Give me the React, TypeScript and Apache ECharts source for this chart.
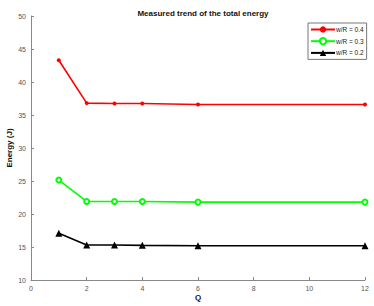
import React, { useEffect, useRef } from "react";
import * as echarts from "echarts";

const qValues = [1, 2, 3, 4, 6, 12];
const energy04 = [43.3, 36.8, 36.75, 36.75, 36.6, 36.6];
const energy03 = [25.15, 21.9, 21.9, 21.9, 21.8, 21.8];
const energy02 = [17.1, 15.3, 15.3, 15.25, 15.2, 15.2];
const seriesNames = ["w/R = 0.4", "w/R = 0.3", "w/R = 0.2"];

export default function App() {
  const ref = useRef<HTMLDivElement>(null);
  useEffect(() => {
    if (!ref.current) return;
    const chart = echarts.init(ref.current, null, { renderer: "svg" });
    const mk = (vals: number[]) => qValues.map((q, i) => [q, vals[i]]);
    const axisCommon = {
      axisLine: { show: true, lineStyle: { color: "#888", width: 1 } },
      axisTick: { show: true, inside: true, length: 3, lineStyle: { color: "#888" } },
      axisLabel: { color: "#555", fontSize: 7, fontFamily: "Liberation Sans", margin: 5 },
      splitLine: { show: false },
      nameMoveOverlap: false,
      nameTextStyle: { color: "#111", fontSize: 8, fontWeight: "bold", fontFamily: "Liberation Sans" },
    };
    chart.setOption({
      animation: false,
      backgroundColor: "#fff",
      title: {
        text: "Measured trend of the total energy",
        left: 198,
        textAlign: "center",
        top: 4,
        textStyle: { fontSize: 8, fontWeight: "bold", color: "#111", fontFamily: "Liberation Sans" },
      },
      grid: { left: 31, right: 9, top: 16, bottom: 26, outerBoundsMode: "none", containLabel: false },
      legend: {
        orient: "vertical",
        left: 308,
        top: 23,
        padding: [3, 3, 3, 2],
        itemGap: 4,
        itemWidth: 24,
        itemHeight: 8,
        borderColor: "#777",
        borderWidth: 1,
        backgroundColor: "#fff",
        textStyle: { fontSize: 6.5, color: "#222", fontFamily: "Liberation Sans", padding: [0, 0, 0, -4] },
        data: seriesNames,
      },
      xAxis: {
        type: "value",
        min: 0,
        max: 12,
        interval: 2,
        name: "Q",
        nameLocation: "middle",
        nameGap: 13,
        ...axisCommon,
      },
      yAxis: {
        type: "value",
        min: 10,
        max: 50,
        interval: 5,
        name: "Energy (J)",
        nameLocation: "middle",
        nameGap: 18,
        ...axisCommon,
      },
      series: [
        {
          name: seriesNames[0],
          type: "line",
          data: mk(energy04),
          color: "#ff0000",
          lineStyle: { width: 1.6, color: "#ff0000" },
          symbol: "circle",
          symbolSize: 4,
          itemStyle: { color: "#ff0000" },
        },
        {
          name: seriesNames[1],
          type: "line",
          data: mk(energy03),
          color: "#00ff00",
          lineStyle: { width: 1.6, color: "#00ff00" },
          symbol: "emptyCircle",
          symbolSize: 5,
          itemStyle: { color: "#00ff00", borderWidth: 1.5 },
        },
        {
          name: seriesNames[2],
          type: "line",
          data: mk(energy02),
          color: "#000000",
          lineStyle: { width: 1.6, color: "#000000" },
          symbol: "triangle",
          symbolSize: 7,
          itemStyle: { color: "#000000" },
        },
      ],
    });
    return () => chart.dispose();
  }, []);
  return <div ref={ref} style={{ width: 374, height: 306, position: "absolute", left: 0, top: 0 }} />;
}
